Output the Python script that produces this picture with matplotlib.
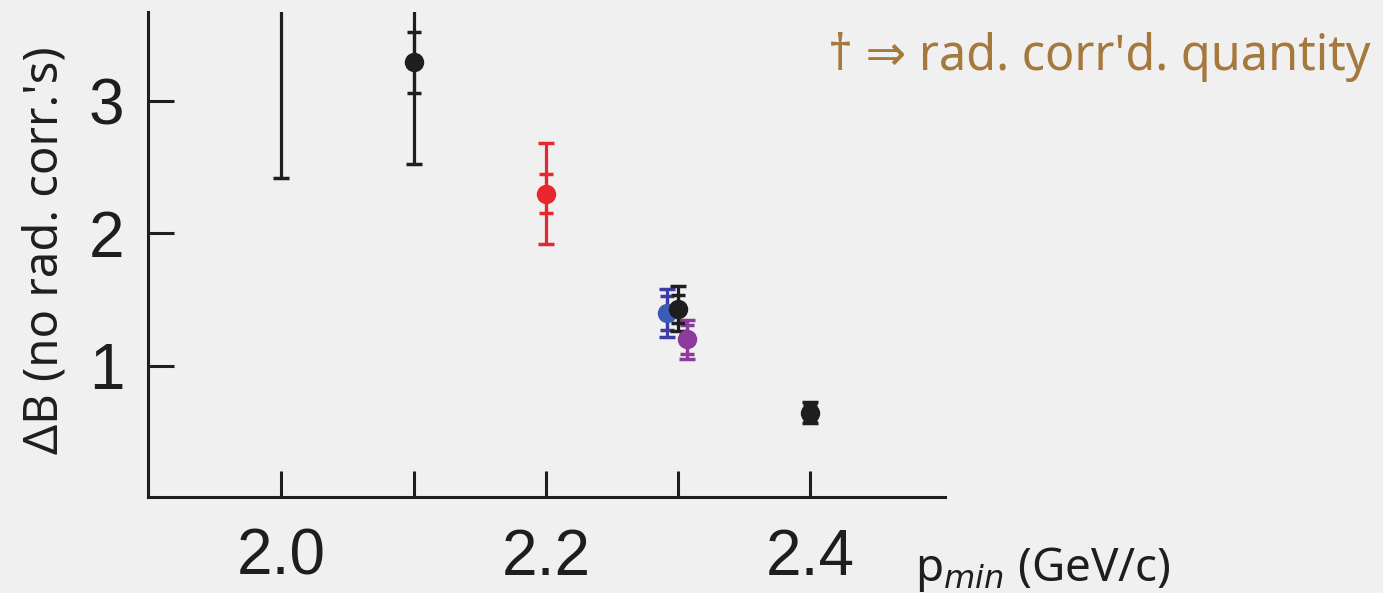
import matplotlib.pyplot as plt

# data
p_min = [2.0, 2.1, 2.2, 2.292, 2.30, 2.307, 2.40]
delta_b = [4.05, 3.29, 2.30, 1.40, 1.43, 1.20, 0.645]
err_total = [1.63, 0.77, 0.38, 0.18, 0.17, 0.145, 0.08]
err_stat = [0.0, 0.23, 0.15, 0.13, 0.105, 0.11, 0.06]
point_colors = ['#1e1e1e', '#1e1e1e', '#e8262e', '#3a5cb4', '#1e1e1e', '#8c3a9c', '#1e1e1e']
bar_colors = ['#1e1e1e', '#1e1e1e', '#e8262e', '#3b3ea4', '#1e1e1e', '#8c3a9c', '#1e1e1e']
draw_order = [0, 1, 2, 3, 5, 4, 6]

x_ticks = [2.0, 2.1, 2.2, 2.3, 2.4]
x_ticklabels = ['2.0', '', '2.2', '', '2.4']
y_ticks = [1, 2, 3]

bg = '#f0f0f0'
fig = plt.figure(figsize=(13.83, 5.93), dpi=100, facecolor=bg)
ax = fig.add_axes([148 / 1383, 1 - 497 / 593, (945 - 148) / 1383, (497 - 12) / 593])
ax.set_facecolor(bg)

for i in draw_order:
    ax.errorbar(p_min[i], delta_b[i], yerr=err_total[i], fmt='none',
                ecolor=bar_colors[i], elinewidth=2.3, capsize=5.5, capthick=2.5, zorder=3)
    if err_stat[i] > 0:
        ax.errorbar(p_min[i], delta_b[i], yerr=err_stat[i], fmt='none',
                    ecolor=bar_colors[i], elinewidth=2.3, capsize=5, capthick=2.5, zorder=3)
    ax.plot(p_min[i], delta_b[i], 'o', color=point_colors[i], markersize=13, zorder=4)

ax.set_xlim(1.899, 2.502)
ax.set_ylim(0.01, 3.67)
ax.set_xticks(x_ticks)
ax.set_xticklabels(x_ticklabels)
ax.set_yticks(y_ticks)

for s in ['top', 'right']:
    ax.spines[s].set_visible(False)
for s in ['left', 'bottom']:
    ax.spines[s].set_linewidth(2.2)
    ax.spines[s].set_color('#1e1e1e')

tick_font = ['Liberation Sans Narrow', 'Liberation Sans', 'DejaVu Sans']
ax.tick_params(direction='in', length=19, width=2.2, color='#1e1e1e', labelcolor='#1e1e1e')
ax.tick_params(axis='x', pad=22)
ax.tick_params(axis='y', pad=17)
for lab in ax.get_xticklabels() + ax.get_yticklabels():
    lab.set_family(tick_font)
    lab.set_fontsize(46)

fig.text(45 / 1383, 1 - 250 / 593, "ΔB (no rad. corr.'s)", rotation=90,
         ha='center', va='center', fontsize=34, family=['Noto Sans', 'DejaVu Sans'],
         color='#1e1e1e')
fig.text(915 / 1383, 1 - 570 / 593, r"p$_{min}$ (GeV/c)", ha='left', va='center',
         fontsize=33, family=['Noto Sans', 'DejaVu Sans'], color='#1e1e1e')
fig.text(1370 / 1383, 1 - 57 / 593, "† ⇒ rad. corr'd. quantity", ha='right', va='center',
         fontsize=35, family=['Noto Sans', 'DejaVu Sans'], color='#a5783c')

fig.savefig('out.png', dpi=100, facecolor=bg)
